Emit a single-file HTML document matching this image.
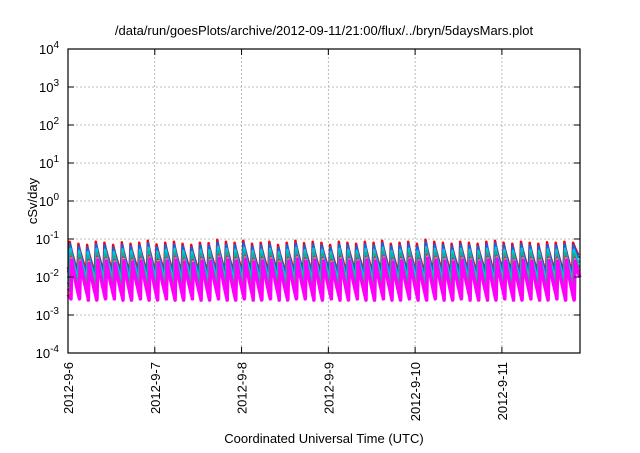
<!DOCTYPE html>
<html><head><meta charset="utf-8"><style>
body{margin:0;background:#fff}
svg text{font-family:"Liberation Sans",sans-serif;fill:#000}
</style></head><body>
<svg id="chart" width="640" height="448" xmlns="http://www.w3.org/2000/svg">
<text x="324" y="35" font-size="13" text-anchor="middle">/data/run/goesPlots/archive/2012-09-11/21:00/flux/../bryn/5daysMars.plot</text>
<g id="grid"></g>
<g id="series"></g>
<rect x="68" y="49" width="512" height="304" fill="none" stroke="#000" stroke-width="1.2"/>
<g id="axes"></g>
<text transform="translate(37,201) rotate(-90)" font-size="13" text-anchor="middle">cSv/day</text>
<text x="324" y="443" font-size="13" text-anchor="middle">Coordinated Universal Time (UTC)</text>
</svg>
<script>
const xTickLabels=["2012-9-6","2012-9-7","2012-9-8","2012-9-9","2012-9-10","2012-9-11"];
const yTickExps=[-4,-3,-2,-1,0,1,2,3,4];
const seriesNames=["red","blue","cyan","teal","purple","yellow","magenta"];
const seriesColors=["#ff0000","#1a5fe0","#00c8d0","#10b090","#a03c80","#e0d000","#ff00ff"];
const peakFactors=[1.0,0.85,0.65,0.5,0.4,0.36,0.33];
const troughFactors=[1.0,0.82,0.58,0.4,0.27,0.22,0.19];
const peakTimes=[0.02,0.12,0.22,0.32,0.42,0.52,0.62,0.72,0.82,0.92,1.02,1.12,1.22,1.32,1.42,1.52,1.62,1.72,1.82,1.92,2.02,2.12,2.22,2.32,2.42,2.52,2.62,2.72,2.82,2.92,3.02,3.12,3.22,3.32,3.42,3.52,3.62,3.72,3.82,3.92,4.02,4.12,4.22,4.32,4.42,4.52,4.62,4.72,4.82,4.92,5.02,5.12,5.22,5.32,5.42,5.52,5.62,5.72,5.82];
const peakValues=[0.085,0.075,0.07,0.085,0.08,0.07,0.082,0.075,0.08,0.09,0.072,0.08,0.085,0.075,0.07,0.08,0.078,0.095,0.085,0.08,0.09,0.075,0.08,0.085,0.07,0.08,0.09,0.078,0.085,0.08,0.07,0.085,0.08,0.075,0.085,0.08,0.09,0.075,0.08,0.085,0.075,0.095,0.085,0.08,0.075,0.085,0.08,0.075,0.085,0.09,0.08,0.075,0.085,0.08,0.075,0.082,0.08,0.085,0.08];
const troughValues=[0.014,0.015,0.013,0.014,0.015,0.014,0.013,0.015,0.014,0.013,0.015,0.014,0.013,0.015,0.014,0.013,0.015,0.014,0.013,0.014,0.015,0.013,0.014,0.015,0.013,0.014,0.015,0.014,0.013,0.015,0.014,0.013,0.015,0.014,0.013,0.015,0.014,0.013,0.015,0.014,0.013,0.014,0.015,0.013,0.014,0.015,0.013,0.014,0.013,0.015,0.014,0.013,0.015,0.014,0.013,0.015,0.014,0.013,0.014];
const NS="http://www.w3.org/2000/svg";
const X0=68,X1=580,Y0=353,Y1=49,DMAX=5.9;
const x=d=>X0+d/DMAX*(X1-X0);
const y=v=>Y0-(Math.log10(v)+4)/8*(Y0-Y1);
function mk(tag,attrs,parent){const e=document.createElementNS(NS,tag);for(const k in attrs)e.setAttribute(k,attrs[k]);parent.appendChild(e);return e;}
const grid=document.getElementById('grid'),axes=document.getElementById('axes'),ser=document.getElementById('series');
yTickExps.forEach(ex=>{const yy=y(Math.pow(10,ex));
 if(ex>-4&&ex<4){const l=mk('line',{x1:X0,x2:X1,y1:yy,y2:yy,stroke:'#aaa','stroke-dasharray':'2,2','stroke-width':0.8},grid);
 }
 const t1=mk('line',{x1:X0,x2:X0+6,y1:yy,y2:yy,stroke:'#000'},axes);
 const t2=mk('line',{x1:X1-6,x2:X1,y1:yy,y2:yy,stroke:'#000'},axes);
 const tx=mk('text',{x:X0-9,y:yy+5,'font-size':13,'text-anchor':'end'},axes);
 
 tx.appendChild(document.createTextNode('10'));const s=mk('tspan',{dy:-6,'font-size':10},tx);s.textContent=String(ex);
});
xTickLabels.forEach((lab,i)=>{const xx=x(i);
 if(i>0){const l=mk('line',{x1:xx,x2:xx,y1:Y1,y2:Y0,stroke:'#aaa','stroke-dasharray':'2,2','stroke-width':0.8},grid);
 }
 const t1=mk('line',{x1:xx,x2:xx,y1:Y0,y2:Y0-6,stroke:'#000'},axes);
 const t2=mk('line',{x1:xx,x2:xx,y1:Y1,y2:Y1+6,stroke:'#000'},axes);
 const tx=mk('text',{transform:`translate(${xx+5},362) rotate(-90)`,'font-size':13,'text-anchor':'end'},axes);
 tx.textContent=lab;
});
seriesNames.forEach((nm,si)=>{let pts=[];const lag=si*0.004;
 for(let k=0;k<peakTimes.length;k++){const t0=peakTimes[k]+lag;const pv=peakValues[k]*peakFactors[si];const tv=troughValues[k]*troughFactors[si];
  const t1=(k+1<peakTimes.length?peakTimes[k+1]+lag:DMAX+0.1)-0.012;
  if(k==0)pts.push([0,tv*1.3]);
  pts.push([t0-0.01,tv]);
  for(let j=0;j<=8;j++){const f=j/8;const lv=Math.log10(pv)+(Math.log10(tv)-Math.log10(pv))*Math.pow(f,0.85);pts.push([t0+(t1-t0)*f,Math.pow(10,lv)]);}
 }
 pts=pts.filter(p=>p[0]<=DMAX);
 const p=mk('polyline',{points:pts.map(q=>x(q[0]).toFixed(1)+','+y(q[1]).toFixed(1)).join(' '),fill:'none',stroke:seriesColors[si],'stroke-width':si==6?3.5:2.5,'stroke-linejoin':'round'},ser);
 
});
</script>
</body></html>
